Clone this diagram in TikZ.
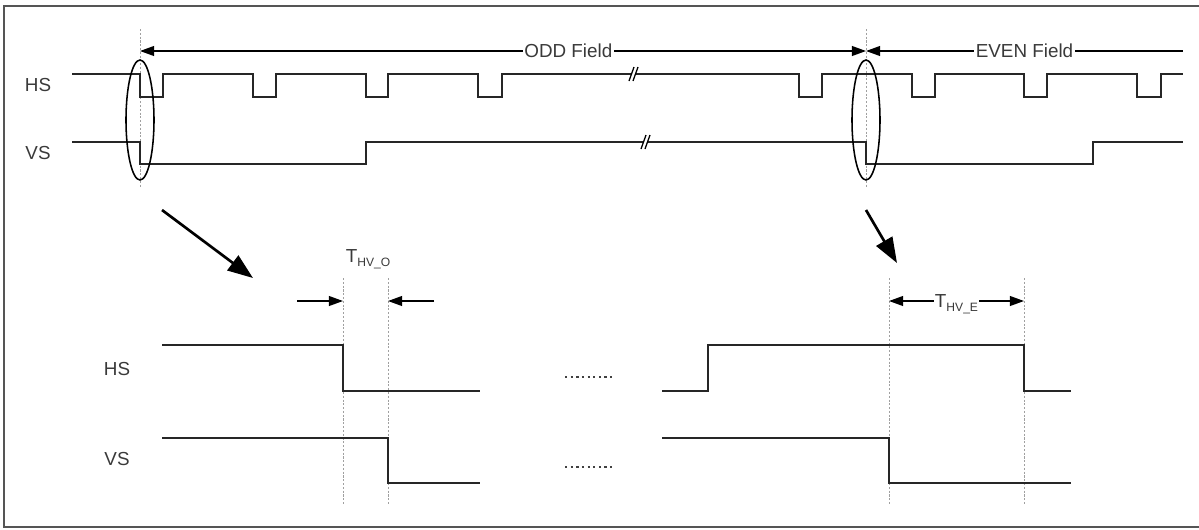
\documentclass[tikz,border=0pt]{standalone}
\usepackage{fontspec}
\setmainfont{Liberation Sans}
\usetikzlibrary{arrows.meta}
\definecolor{framegray}{HTML}{555555}
\definecolor{guidegray}{HTML}{A0A0A0}
\definecolor{textgray}{HTML}{3A3A3A}
% "//" mark cutting a long signal line
\newcommand{\sigbreak}[2]{%
  \fill[white] (#1-5,#2+7) -- (#1,#2-7) -- (#1+4,#2-7) -- (#1-1,#2+7) -- cycle;
  \draw[line width=0.9pt] (#1-5,#2+7) -- (#1,#2-7);
  \draw[line width=0.9pt] (#1-1,#2+7) -- (#1+4,#2-7);}
\newcommand{\hvlabel}[1]{T\smash{\raisebox{-3pt}{\fontsize{8.6}{9}\selectfont HV\_#1}}}

\begin{document}
\begin{tikzpicture}[
      x=0.025cm, y=-0.025cm,
      >={Triangle[length=10pt,width=7pt]},
      sig/.style={line width=1.2pt, black!85},
      guide/.style={guidegray, line width=0.6pt, dash pattern=on 1.5pt off 1.2pt},
      dim/.style={line width=1pt},
      lbl/.style={text=textgray, font=\fontsize{13.4}{16}\selectfont, inner sep=1pt},
      ring/.style={line width=1.1pt},
      bigarrow/.style={line width=1.9pt, -{Triangle[length=18pt,width=13pt]}},
      dots/.style={line width=1.6pt, black!75, dash pattern=on 1.6pt off 2.4pt}
    ]
      \useasboundingbox (0,0) rectangle (1199,529);
      % frame, its right side lies off the page
      \draw[framegray, line width=1.3pt] (1199,6) -- (4,6) -- (4,527) -- (1199,527);

      % signal names
      \node[lbl] (hstop) at (38,85) {HS};
      \node[lbl] (vstop) at (38,153) {VS};
      \node[lbl] (hsodd) at (117,369) {HS};
      \node[lbl] (vsodd) at (117,459) {VS};

      % field lengths
      \coordinate (oddstart) at (140,51);
      \coordinate (evenstart) at (866,51);
      \coordinate (evenend) at (1183,51);
      \draw[guide] (140,29) -- (140,188);
      \draw[guide] (866,29) -- (866,188);
      \draw[dim, <->] (oddstart) -- node[lbl, fill=white, pos=0.59] (oddfield)
        {ODD Field} (evenstart);
      \draw[dim, <-] (evenstart) -- node[lbl, fill=white] (evenfield)
        {EVEN Field} (evenend);

      % whole frame
      \draw[sig] (72,74) -| (140,97) -| (163,74) -| (253,97) -| (276,74)
        -| (366,97) -| (388,74) -| (478,97) -| (502,74) -| (799,97) -| (822,74)
        -| (912,97) -| (935,74) -| (1024,97) -| (1047,74) -| (1137,97)
        -| (1161,74) -- (1183,74);
      \draw[sig] (72,142) -| (140,164) -| (366,142) -| (866,164) -| (1093,142)
        -- (1183,142);
      \sigbreak{634}{74}
      \sigbreak{646}{142}
      \draw[ring] (140,120) ellipse [x radius=14, y radius=60];
      \draw[ring] (866,120) ellipse [x radius=14, y radius=60];

      % zoom arrows
      \coordinate (oddzoom) at (162,210);
      \coordinate (oddzoomend) at (253,278);
      \coordinate (evenzoom) at (866,210);
      \coordinate (evenzoomend) at (897,263);
      \draw[bigarrow] (oddzoom) -- (oddzoomend);
      \draw[bigarrow] (evenzoom) -- (evenzoomend);

      % odd field edge
      \draw[guide] (343,278) -- (343,505);
      \draw[guide] (388,278) -- (388,505);
      \draw[sig] (162,345) -| (343,391) -- (480,391);
      \draw[sig] (162,438) -| (388,483) -- (480,483);
      \node[lbl] (thvodd) at (368,256) {\hvlabel{O}};
      \coordinate (oddleft) at (297,301);
      \coordinate (oddhs) at (343,301);
      \coordinate (oddright) at (434,301);
      \coordinate (oddvs) at (388,301);
      \draw[dim, ->] (oddleft) -- (oddhs);
      \draw[dim, ->] (oddright) -- (oddvs);

      \draw[dots] (565,377) -- (613,377);
      \draw[dots] (565,467) -- (613,467);

      % even field edge
      \draw[guide] (889,278) -- (889,505);
      \draw[guide] (1024,278) -- (1024,505);
      \draw[sig] (662,391) -| (708,345) -| (1024,391) -- (1071,391);
      \draw[sig] (662,438) -| (889,483) -- (1071,483);
      \coordinate (evenvs) at (889,301);
      \coordinate (evenhs) at (1024,301);
      \draw[dim, <->] (evenvs) -- node[lbl, fill=white] (thveven)
        {\hvlabel{E}} (evenhs);
    \end{tikzpicture}
\end{document}
